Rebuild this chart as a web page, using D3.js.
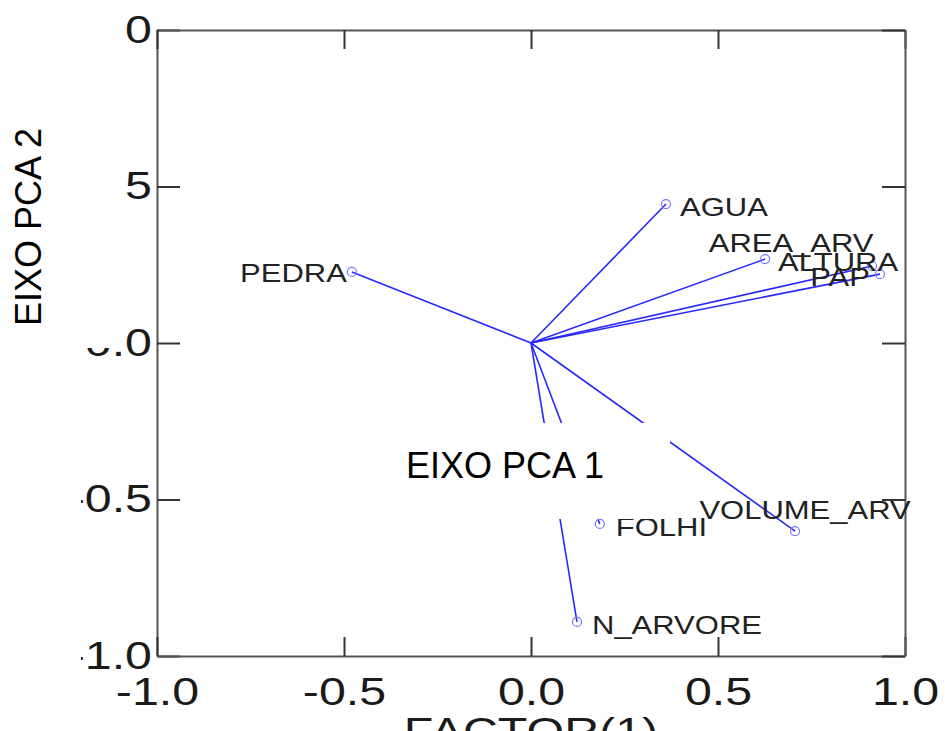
<!DOCTYPE html>
<html>
<head>
<meta charset="utf-8">
<script src="https://cdn.jsdelivr.net/npm/d3@7"></script>
<style>
  body { margin: 0; background: #fff; }
  svg { display: block; font-family: "Liberation Sans", Arial, sans-serif; }
</style>
</head>
<body>
<svg id="chart" width="945" height="731"></svg>
<script>
"use strict"

// loadings
var variables = ["PEDRA", "AGUA", "AREA_ARV", "ALTURA", "PAP", "VOLUME_ARV", "FOLHI", "N_ARVORE"];
var factor1 = [-0.479, 0.361, 0.626, 0.912, 0.933, 0.706, 0.184, 0.123];
var factor2 = [0.227, 0.444, 0.268, 0.246, 0.220, -0.601, -0.578, -0.891];
var tickValues = [-1.0, -0.5, 0.0, 0.5, 1.0];

// where each label sits relative to its marker
var labelPlacement = [
    { anchor: "end", dx: -5, dy: 1 },
    { anchor: "start", dx: 14, dy: 3 },
    { anchor: "middle", dx: 26, dy: -16 },
    { anchor: "middle", dx: -34, dy: -4 },
    { anchor: "end", dx: -10, dy: 3 },
    { anchor: "middle", dx: 10, dy: -21 },
    { anchor: "start", dx: 16, dy: 3 },
    { anchor: "start", dx: 15, dy: 3 }
];

var stretch = 1.24; // the source plot is stretched horizontally

var margin = { top: 30, left: 157 };
var svg = d3.select("#chart");

var xScale = d3.scaleLinear().domain([-1, 1]).range([0, 748]);
var yScale = d3.scaleLinear().domain([-1, 1]).range([626, 0]);
var f1 = d3.format(".1f");
// plain hyphen instead of the unicode minus
var fmt = function(v) { return f1(v).replace("\u2212", "-"); };

var g = svg.append("g")
    .attr("transform", "translate(" + margin.left + "," + margin.top + ")");

function styleAxis(sel) {
    sel.select(".domain").attr("stroke", "#555").attr("stroke-width", 2);
    sel.selectAll(".tick line").attr("stroke", "#333").attr("stroke-width", 2);
}

// frame: four axes with inward ticks
var leftAxis = g.append("g")
    .call(d3.axisLeft(yScale).tickValues(tickValues).tickSize(-23).tickSizeOuter(0).tickPadding(5).tickFormat(fmt));
var bottomAxis = g.append("g")
    .attr("transform", "translate(0," + yScale(-1) + ")")
    .call(d3.axisBottom(xScale).tickValues(tickValues).tickSize(-19).tickSizeOuter(0).tickPadding(21).tickFormat(fmt));
var topAxis = g.append("g")
    .call(d3.axisTop(xScale).tickValues(tickValues).tickSize(-19).tickSizeOuter(0).tickFormat(""));
var rightAxis = g.append("g")
    .attr("transform", "translate(" + xScale(1) + ",0)")
    .call(d3.axisRight(yScale).tickValues(tickValues).tickSize(-23).tickSizeOuter(0).tickFormat(""));

[leftAxis, bottomAxis, topAxis, rightAxis].forEach(styleAxis);

g.selectAll(".tick text")
    .attr("font-family", "Liberation Sans, Arial, sans-serif")
    .attr("font-size", 39)
    .attr("fill", "#1a1a1a");
leftAxis.selectAll(".tick text")
    .attr("x", -5 / stretch)
    .attr("transform", "scale(" + stretch + ",1)");
bottomAxis.selectAll(".tick text")
    .attr("transform", "scale(" + stretch + ",1)");

// x title, mostly cut off at the bottom of the picture
g.append("text")
    .attr("transform", "translate(" + xScale(0) + "," + (yScale(-1) + 89) + ") scale(" + stretch + ",1)")
    .attr("text-anchor", "middle")
    .attr("font-size", 39)
    .attr("fill", "#1a1a1a")
    .text("FACTOR(1)");

var rows = variables.map(function(name, i) {
    return { name: name, f1: factor1[i], f2: factor2[i], pos: labelPlacement[i] };
});

// vectors from the origin
g.append("g").selectAll("line")
    .data(rows)
    .enter().append("line")
    .attr("x1", xScale(0))
    .attr("y1", yScale(0))
    .attr("x2", function(d) { return xScale(d.f1); })
    .attr("y2", function(d) { return yScale(d.f2); })
    .attr("stroke", "#2828ff")
    .attr("stroke-width", 1.6);

g.append("g").selectAll("circle")
    .data(rows)
    .enter().append("circle")
    .attr("cx", function(d) { return xScale(d.f1); })
    .attr("cy", function(d) { return yScale(d.f2); })
    .attr("r", 4.5)
    .attr("fill", "none")
    .attr("stroke", "#7878ff")
    .attr("stroke-width", 1.2);

g.append("g").selectAll("text")
    .data(rows)
    .enter().append("text")
    .attr("transform", function(d) {
        return "translate(" + (xScale(d.f1) + d.pos.dx) + "," + (yScale(d.f2) + d.pos.dy) + ") scale(" + stretch + ",1)";
    })
    .attr("text-anchor", function(d) { return d.pos.anchor; })
    .attr("dy", "0.35em")
    .attr("font-size", 25)
    .attr("fill", "#222")
    .text(function(d) { return d.name; });

// white label boxes pasted over the plot
svg.append("rect").attr("x", 0).attr("y", 0).attr("width", 123).attr("height", 348).attr("fill", "#fff");
svg.append("rect").attr("x", 0).attr("y", 348).attr("width", 81).attr("height", 383).attr("fill", "#fff");
svg.append("rect").attr("x", 395).attr("y", 423).attr("width", 275).attr("height", 96).attr("fill", "#fff");

svg.append("text")
    .attr("transform", "translate(41,227) rotate(-90)")
    .attr("text-anchor", "middle")
    .attr("font-size", 36)
    .attr("fill", "#000")
    .text("EIXO PCA 2");

svg.append("text")
    .attr("x", 406)
    .attr("y", 478)
    .attr("font-size", 36)
    .attr("fill", "#000")
    .text("EIXO PCA 1");
</script>
</body>
</html>
